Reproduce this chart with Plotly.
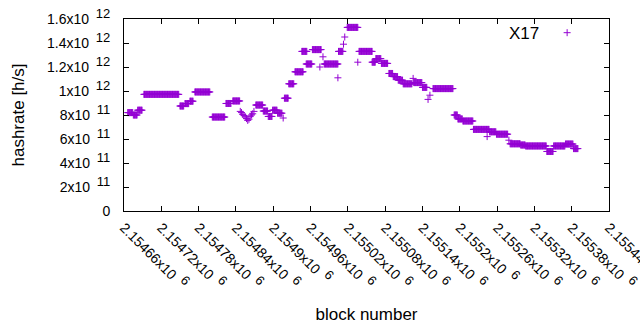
import plotly.graph_objects as go

series_name = "X17"

# runs of constant hashrate: first block, last block, hashrate (x 1e11 h/s)
run_start = [2154666, 2154675, 2154682, 2154692, 2154750, 2154758, 2154766, 2154774,
             2154802, 2154824, 2154835,
             2154847, 2154849, 2154851, 2154853, 2154855, 2154857, 2154859, 2154861,
             2154863, 2154865, 2154867, 2154869,
             2154872, 2154884, 2154892, 2154899, 2154907, 2154916, 2154918, 2154925,
             2154935, 2154946, 2154953, 2154963, 2154975, 2154980, 2154982, 2155004,
             2155005, 2155013, 2155015, 2155019, 2155036, 2155038, 2155059, 2155065,
             2155074, 2155086, 2155093, 2155101, 2155109, 2155125, 2155126, 2155140,
             2155149, 2155152, 2155157, 2155191, 2155197, 2155205, 2155222, 2155244,
             2155248, 2155259, 2155279, 2155281, 2155298, 2155306, 2155340, 2155351,
             2155370, 2155383]
run_end = [2154674, 2154681, 2154689, 2154748, 2154756, 2154764, 2154771, 2154798,
           2154822, 2154832, 2154846,
           2154847, 2154849, 2154851, 2154853, 2154855, 2154857, 2154859, 2154861,
           2154863, 2154865, 2154867, 2154869,
           2154883, 2154891, 2154898, 2154906, 2154914, 2154916, 2154924, 2154933,
           2154948, 2154954, 2154962, 2154977, 2154975, 2154980, 2155004, 2155004,
           2155012, 2155013, 2155015, 2155036, 2155036, 2155059, 2155064, 2155073,
           2155084, 2155092, 2155100, 2155108, 2155123, 2155125, 2155139, 2155147,
           2155149, 2155152, 2155189, 2155196, 2155204, 2155221, 2155247, 2155244,
           2155258, 2155277, 2155279, 2155297, 2155305, 2155339, 2155350, 2155369,
           2155382, 2155390]
run_value = [8.2, 8.0, 8.4, 9.72, 8.75, 8.95, 9.15, 9.92,
             7.83, 8.96, 9.17,
             8.3, 8.2, 8.05, 7.95, 7.85, 7.7, 7.55, 7.65,
             7.9, 8.0, 8.1, 8.3,
             8.83, 8.33, 7.88, 8.4, 8.15, 7.75, 9.4, 10.6,
             11.6, 13.3, 12.25, 13.45, 12.0, 12.85, 12.25, 11.1,
             13.3, 13.9, 14.5, 15.3, 12.4, 13.3, 12.4, 12.7,
             12.3, 11.46, 11.2, 10.9, 10.6, 11.05, 10.7, 10.3,
             9.3, 9.65, 10.2, 8.0, 7.67, 7.5, 6.8, 6.2,
             6.6, 6.4, 5.9, 5.6, 5.5, 5.42, 4.96, 5.42,
             5.58, 5.2]

x_tick_vals = [2154660, 2154720, 2154780, 2154840, 2154900, 2154960, 2155020,
               2155080, 2155140, 2155200, 2155260, 2155320, 2155380, 2155440]
x_tick_text = ["2.15466", "2.15472", "2.15478", "2.15484", "2.1549", "2.15496",
               "2.15502", "2.15508", "2.15514", "2.1552", "2.15526", "2.15532",
               "2.15538", "2.15544"]
y_tick_vals = [0, 2e11, 4e11, 6e11, 8e11, 1e12, 1.2e12, 1.4e12, 1.6e12]
y_tick_mant = ["0", "2", "4", "6", "8", "1", "1.2", "1.4", "1.6"]
y_tick_exp = ["", "11", "11", "11", "11", "12", "12", "12", "12"]

blocks, hashrate = [], []
for s, e, v in zip(run_start, run_end, run_value):
    for b in range(s, e + 1):
        blocks.append(b)
        hashrate.append(v * 1e11)

FONT = "Liberation Sans, Arial, sans-serif"
COLOR = "#9400D3"


def sup(base, exp):
    return f"{base}x10&nbsp;&#8201;<sup><span style='font-size:13px'>{exp}</span></sup>"


fig = go.Figure()
fig.add_trace(go.Scatter(
    x=blocks, y=hashrate, mode="markers", name=" ",
    marker=dict(symbol="cross-thin", size=5, color=COLOR,
                line=dict(color=COLOR, width=1)),
    showlegend=True,
))

y_text = [m if not e else sup(m, e) for m, e in zip(y_tick_mant, y_tick_exp)]
x_text = [sup(t, "6") for t in x_tick_text]

axis_common = dict(showgrid=False, zeroline=False, showline=True, linecolor="black",
                   linewidth=1, mirror="ticks", ticks="inside", ticklen=5,
                   tickcolor="black", tickwidth=1, automargin=False)

fig.update_layout(
    width=640, height=330,
    margin=dict(l=124, r=31, t=19, b=119, autoexpand=False),
    paper_bgcolor="white", plot_bgcolor="white",
    font=dict(family=FONT, size=14, color="black"),
    xaxis=dict(range=[2154660, 2155440], tickvals=x_tick_vals, ticktext=x_text,
               tickangle=45, ticklabelstandoff=2, ticklabeloverflow="allow",
               title=dict(text="block number", standoff=16), **axis_common),
    yaxis=dict(range=[0, 1.6e12], tickvals=y_tick_vals, ticktext=y_text,
               ticklabelstandoff=10,
               title=dict(text="hashrate [h/s]", standoff=18), **axis_common),
    legend=dict(x=0.975, y=1.01, xanchor="right", yanchor="top",
                bgcolor="rgba(0,0,0,0)", title=dict(text=series_name, side="left"),
                itemwidth=30),
)

fig.write_html("out.html", config={"displayModeBar": False},
               post_script="document.body.style.margin='0';document.body.style.overflow='hidden';")
